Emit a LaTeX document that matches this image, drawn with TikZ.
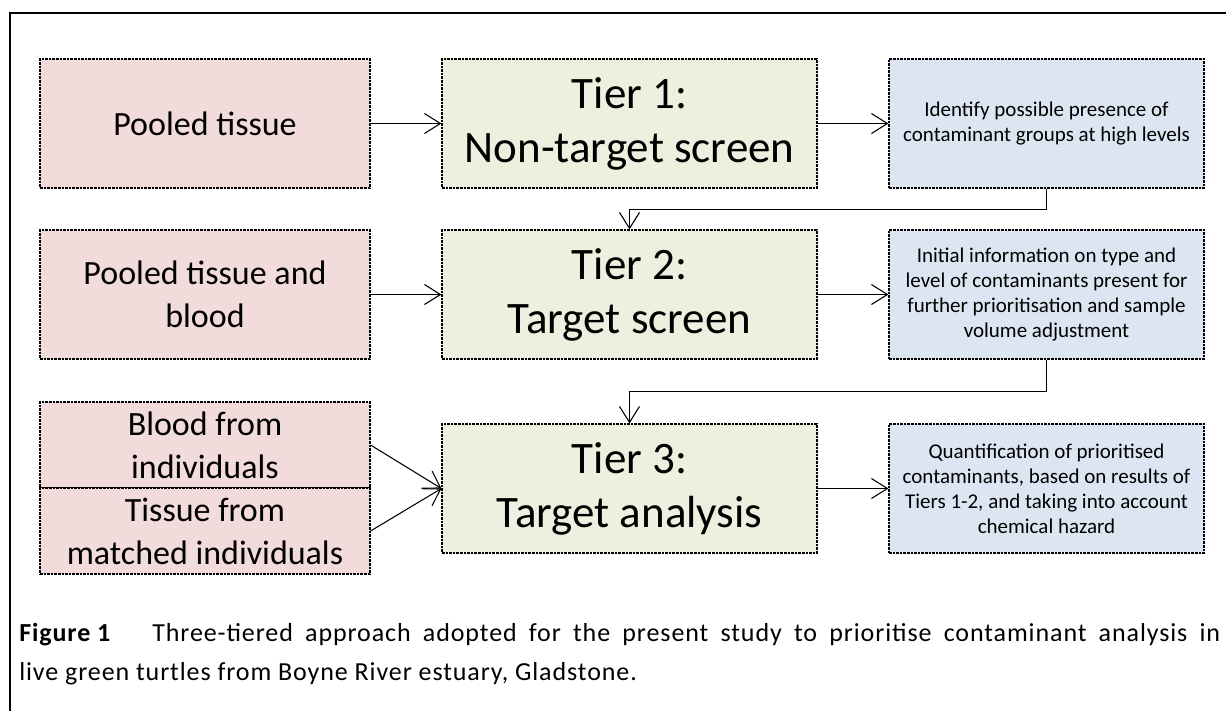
\documentclass[tikz,border=0pt]{standalone}
\usepackage{fontspec}
\setmainfont{Carlito}
\newfontfamily\capfont[LetterSpace=3.5]{Carlito}
\usetikzlibrary{arrows.meta}
\definecolor{pinkfill}{RGB}{242,220,219}
\definecolor{greenfill}{RGB}{235,241,222}
\definecolor{bluefill}{RGB}{220,230,242}

\begin{document}
\begin{tikzpicture}[x=0.75pt,y=-0.75pt,
  box/.style={draw=black, dash pattern=on 2pt off 0.7pt, line width=0.85pt,
              inner sep=0pt, align=center},
  source/.style={box, fill=pinkfill, minimum width=247.5pt, minimum height=96.75pt,
                 font=\fontsize{25.5}{32.25}\selectfont},
  halfsource/.style={source, minimum height=64.5pt},
  tier/.style={box, fill=greenfill, minimum width=281.25pt, minimum height=96.75pt,
               font=\fontsize{33.75}{40.5}\selectfont},
  outcome/.style={box, fill=bluefill, minimum width=236.25pt, minimum height=96.75pt,
                  font=\fontsize{15.75}{18.75}\selectfont},
  link/.style={line width=0.8pt, -{Straight Barb[length=12pt,width=15pt,line width=0.8pt]}},
  caption/.style={anchor=base west, inner sep=0pt, font=\capfont\fontsize{19.5}{24}\selectfont}
]
\useasboundingbox (0,0) rectangle (1226,711);

% page frame
\draw[line width=1.2pt] (10,711) -- (10,13) -- (1226,13);

% row 1
\node[source]  (pool1) at (205,123.5)  {Pooled tissue};
\node[tier]    (tier1) at (629.5,123.5) {Tier 1:\\Non-target screen};
\node[outcome] (out1)  at (1046.5,123.5) {Identify possible presence of\\contaminant groups at high levels};

% row 2
\node[source]  (pool2) at (205,294.5)  {Pooled tissue and\\blood};
\node[tier]    (tier2) at (629.5,294.5) {Tier 2:\\Target screen};
\node[outcome] (out2)  at (1046.5,294.5) {Initial information on type and\\level of contaminants present for\\further prioritisation and sample\\volume adjustment};

% row 3
\node[halfsource] (blood)  at (205,445)  {Blood from\\individuals};
\node[halfsource] (tissue) at (205,531)  {Tissue from\\matched individuals};
\node[tier]    (tier3) at (629.5,488.5) {Tier 3:\\Target analysis};
\node[outcome] (out3)  at (1046.5,488.5) {Quantification of prioritised\\contaminants, based on results of\\Tiers 1-2, and taking into account\\chemical hazard};

% connectors
\draw[link] (pool1) -- (tier1);
\draw[link] (tier1) -- (out1);
\draw[link] (out1.south) -- ++(0,21) -| (tier2.north);
\draw[link] (pool2) -- (tier2);
\draw[link] (tier2) -- (out2);
\draw[link] (out2.south) -- ++(0,32) -| (tier3.north);
\draw[link] (blood.east) -- (tier3.west);
\draw[link] (tissue.east) -- (tier3.west);
\draw[link] (tier3) -- (out3);

% caption (first line justified to the right margin)
\node[caption] (capnum)  at (19,641)  {\textbf{Figure 1}};
\node[caption] (captext) at (152,641) {\makebox[801pt][s]{Three-tiered approach adopted for the present study to prioritise contaminant analysis in}};
\node[caption] (capline) at (19,680)  {live green turtles from Boyne River estuary, Gladstone.};
\end{tikzpicture}
\end{document}
